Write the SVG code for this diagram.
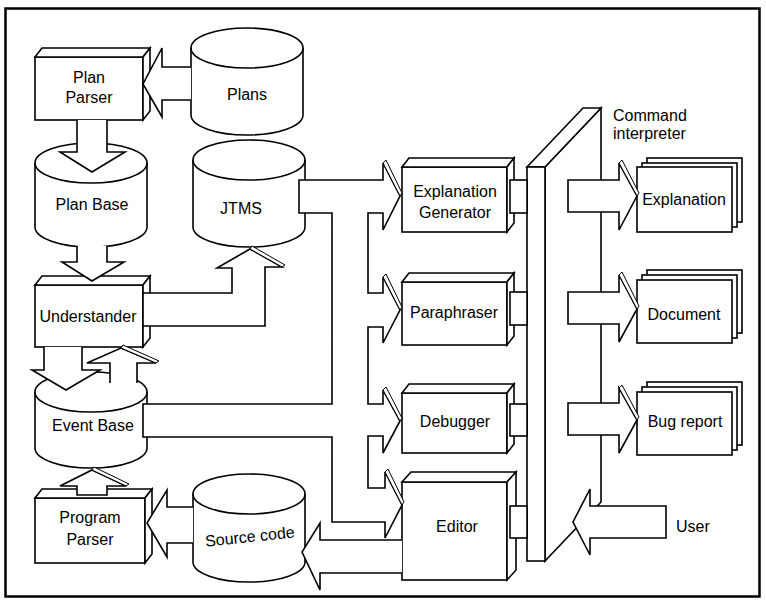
<svg xmlns="http://www.w3.org/2000/svg" width="766" height="602" viewBox="0 0 766 602">
<style>
.s{fill:#fff;stroke:#000;stroke-width:1.6;stroke-linejoin:miter}
.n{fill:none;stroke:#000;stroke-width:1.6}
.h{fill:#fff;stroke:#000;stroke-width:1}
.t{font-family:"Liberation Sans",Arial,sans-serif;font-size:16px;fill:#000;text-anchor:middle}
.tl{text-anchor:start}
</style>
<rect width="766" height="602" fill="#fff"/>
<rect x="5.5" y="8.5" width="754" height="588" fill="none" stroke="#000" stroke-width="2.5"/>

<g id="plans">
<path class="s" d="M191,48 A56,20 0 0 1 303,48 L303,115 A56,20 0 0 1 191,115 Z"/>
<path class="n" d="M191,48 A56,20 0 0 0 303,48"/>
<text class="t" x="247" y="100">Plans</text>
</g>
<g id="plan-base">
<path class="s" d="M35,163 A56,20 0 0 1 147,163 L147,227 A56,20 0 0 1 35,227 Z"/>
<path class="n" d="M35,163 A56,20 0 0 0 147,163"/>
<text class="t" x="92" y="210">Plan Base</text>
</g>
<g id="jtms">
<path class="s" d="M193,160 A56,20 0 0 1 305,160 L305,227 A56,20 0 0 1 193,227 Z"/>
<path class="n" d="M193,160 A56,20 0 0 0 305,160"/>
<text class="t" x="241" y="214">JTMS</text>
</g>
<g id="event-base">
<path class="s" d="M35,392 A56,20 0 0 1 147,392 L147,448 A56,20 0 0 1 35,448 Z"/>
<path class="n" d="M35,392 A56,20 0 0 0 147,392"/>
<text class="t" x="93" y="431">Event Base</text>
</g>
<g id="source-code">
<path class="s" d="M193,494 A56,20 0 0 1 305,494 L305,562 A56,20 0 0 1 193,562 Z"/>
<path class="n" d="M193,494 A56,20 0 0 0 305,494"/>
<text class="t" x="250" y="542" transform="rotate(-6 250 538)">Source code</text>
</g>

<g id="plan-parser">
<rect class="s" x="35" y="57" width="108" height="63"/>
<polygon class="s" points="35,57 42,48 150,48 143,57"/>
<polygon class="s" points="143,57 150,48 150,111 143,120"/>
<text class="t" x="89" y="83">Plan</text>
<text class="t" x="89" y="103">Parser</text>
</g>
<g id="understander">
<rect class="s" x="35" y="285" width="108" height="62"/>
<polygon class="s" points="35,285 42,276 150,276 143,285"/>
<polygon class="s" points="143,285 150,276 150,338 143,347"/>
<text class="t" x="88" y="322">Understander</text>
</g>
<g id="program-parser">
<rect class="s" x="35" y="498" width="110" height="65"/>
<polygon class="s" points="35,498 42,489 152,489 145,498"/>
<polygon class="s" points="145,498 152,489 152,554 145,563"/>
<text class="t" x="90" y="523">Program</text>
<text class="t" x="90" y="545">Parser</text>
</g>
<g id="explanation-generator">
<rect class="s" x="402" y="167" width="105" height="65"/>
<polygon class="s" points="402,167 409,158 514,158 507,167"/>
<polygon class="s" points="507,167 514,158 514,223 507,232"/>
<text class="t" x="455" y="197">Explanation</text>
<text class="t" x="455" y="218">Generator</text>
</g>
<g id="paraphraser">
<rect class="s" x="402" y="282" width="105" height="63"/>
<polygon class="s" points="402,282 409,273 514,273 507,282"/>
<polygon class="s" points="507,282 514,273 514,336 507,345"/>
<text class="t" x="454" y="318">Paraphraser</text>
</g>
<g id="debugger">
<rect class="s" x="402" y="393" width="105" height="60"/>
<polygon class="s" points="402,393 409,384 514,384 507,393"/>
<polygon class="s" points="507,393 514,384 514,444 507,453"/>
<text class="t" x="455" y="427">Debugger</text>
</g>
<g id="editor">
<rect class="s" x="402" y="482" width="105" height="98"/>
<polygon class="s" points="402,482 411,472 516,472 507,482"/>
<polygon class="s" points="507,482 516,472 516,570 507,580"/>
<text class="t" x="457" y="532">Editor</text>
</g>

<g id="command-interpreter">
<polygon class="s" points="545,167 601,108 601,502 545,561"/>
<polygon class="s" points="527,167 583,108 601,108 545,167"/>
<rect class="s" x="527" y="167" width="18" height="394"/>
<text class="t tl" x="613" y="121">Command</text>
<text class="t tl" x="613" y="139">interpreter</text>
</g>

<g id="out-explanation">
<rect class="s" x="647" y="158" width="95" height="64"/>
<rect class="s" x="642" y="163" width="95" height="64"/>
<rect class="s" x="637" y="167" width="95" height="65"/>
<text class="t" x="684" y="205">Explanation</text>
</g>
<g id="out-document">
<rect class="s" x="647" y="270" width="95" height="63"/>
<rect class="s" x="642" y="275" width="95" height="63"/>
<rect class="s" x="637" y="280" width="95" height="63"/>
<text class="t" x="684" y="320">Document</text>
</g>
<g id="out-bug-report">
<rect class="s" x="647" y="382" width="95" height="63"/>
<rect class="s" x="642" y="387" width="95" height="63"/>
<rect class="s" x="637" y="392" width="95" height="63"/>
<text class="t" x="685" y="427">Bug report</text>
</g>
<g id="user">
<text class="t tl" x="676" y="532">User</text>
</g>

<g id="connectors">
<path class="s" d="M191,67 L162,67 L162,48 L143,84 L162,117 L162,100 L191,100"/>
<path class="s" d="M77,120 L77,152 L60,152 L92,172 L125,152 L107,152 L107,120"/>
<path class="s" d="M77,246 L77,262 L62,262 L92,281 L124,262 L107,262 L107,246"/>
<path class="s" d="M143,293 L232,293 L232,268 L217,268 L250,249 L282,267 L265,267 L265,326 L143,326 Z"/>
<polygon class="h" points="250,249 252,246 285,265 282,267"/>
<path class="s" d="M44,347 L44,370 L32,370 L66,390 L100,370 L82,370 L82,347"/>
<path class="s" d="M110,383 L110,363 L87,363 L121,348 L156,363 L137,363 L137,383"/>
<polygon class="h" points="121,348 123,345 159,361 156,363"/>
<path class="s" d="M77,495 L77,486 L60,486 L92,470 L126,486 L107,486 L107,495 Z"/>
<polygon class="h" points="92,470 94,467 129,484 126,486"/>
<path class="s" d="M193,507 L167,507 L167,490 L147,523 L167,557 L167,543 L193,543"/>
<path class="s" d="M402,540 L320,540 L320,523 L302,552 L320,590 L320,573 L402,573"/>
<path class="s" d="M299,180 L383,180 L383,163 L400,196 L383,230 L383,213 L368,213 L368,293 L383,293 L383,277 L400,310 L383,343 L383,327 L368,327 L368,404 L383,404 L383,390 L400,421 L383,453 L383,436 L368,436 L368,488 L385,488 L385,472 L402,505 L385,538 L385,522 L332,522 L332,437 L143,437 L143,404 L332,404 L332,213 L299,213 Z"/>
<polygon class="h" points="383,163 386,160 402,193 400,196"/>
<polygon class="h" points="383,277 386,274 402,307 400,310"/>
<polygon class="h" points="383,390 386,387 402,418 400,421"/>
<polygon class="h" points="385,472 388,469 404,502 402,505"/>
<rect class="s" x="510" y="180" width="17" height="33"/>
<rect class="s" x="510" y="292" width="17" height="33"/>
<rect class="s" x="510" y="404" width="17" height="32"/>
<rect class="s" x="510" y="506" width="17" height="32"/>
<path class="s" d="M568,180 L619,180 L619,163 L637,196 L619,230 L619,212 L568,212 Z"/>
<polygon class="h" points="619,163 622,160 639,193 637,196"/>
<path class="s" d="M568,292 L619,292 L619,275 L637,309 L619,342 L619,324 L568,324 Z"/>
<polygon class="h" points="619,275 622,272 639,306 637,309"/>
<path class="s" d="M568,403 L619,403 L619,388 L637,420 L619,453 L619,435 L568,435 Z"/>
<polygon class="h" points="619,388 622,385 639,417 637,420"/>
<path class="s" d="M666,506 L590,506 L590,489 L573,522 L590,555 L590,538 L666,538 Z"/>
</g>
</svg>
